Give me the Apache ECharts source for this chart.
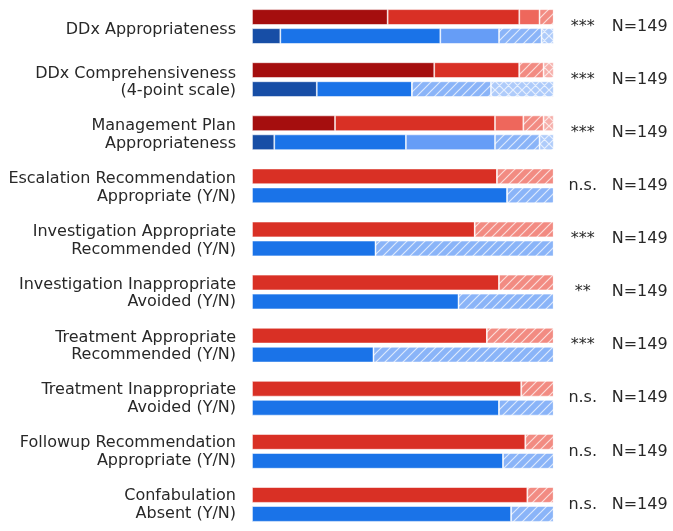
<!DOCTYPE html>
<html>
<head>
<meta charset="utf-8">
<script src="https://cdn.jsdelivr.net/npm/echarts@6/dist/echarts.min.js"></script>
<style>
  html, body { margin: 0; padding: 0; background: #fff; }
  #chart { width: 673px; height: 531px; }
</style>
</head>
<body>
<div id="chart"></div>
<script>
// Rated outcomes, each row compares two groups (red = group A, blue = group B)
const categories = [
  'DDx Appropriateness',
  'DDx Comprehensiveness\n(4-point scale)',
  'Management Plan\nAppropriateness',
  'Escalation Recommendation\nAppropriate (Y/N)',
  'Investigation Appropriate\nRecommended (Y/N)',
  'Investigation Inappropriate\nAvoided (Y/N)',
  'Treatment Appropriate\nRecommended (Y/N)',
  'Treatment Inappropriate\nAvoided (Y/N)',
  'Followup Recommendation\nAppropriate (Y/N)',
  'Confabulation\nAbsent (Y/N)'
];

// Counts per rating level (level 1 = best, level 5 = worst)
const groupA1 = [67, 90, 41, 0, 0, 0, 0, 0, 0, 0];
const groupA2 = [65, 42, 79, 121, 110, 122, 116, 133, 135, 136];
const groupA3 = [10, 0, 14, 0, 0, 0, 0, 0, 0, 0];
const groupA4 = [7, 12, 10, 28, 39, 27, 33, 16, 14, 13];
const groupA5 = [0, 5, 5, 0, 0, 0, 0, 0, 0, 0];

const groupB1 = [14, 32, 11, 0, 0, 0, 0, 0, 0, 0];
const groupB2 = [79, 47, 65, 126, 61, 102, 60, 122, 124, 128];
const groupB3 = [29, 0, 44, 0, 0, 0, 0, 0, 0, 0];
const groupB4 = [21, 39, 22, 23, 88, 47, 89, 27, 25, 21];
const groupB5 = [6, 31, 7, 0, 0, 0, 0, 0, 0, 0];

const significance = ['***', '***', '***', 'n.s.', '***', '**', '***', 'n.s.', 'n.s.', 'n.s.'];
const sampleSizes = [149, 149, 149, 149, 149, 149, 149, 149, 149, 149];

const TOTAL = 149;

// Hatched fill: diagonal white lines, optionally crossed
function hatch(bg, cross) {
  const s = 9;
  const c = document.createElement('canvas');
  c.width = s; c.height = s;
  const g = c.getContext('2d');
  g.fillStyle = bg;
  g.fillRect(0, 0, s, s);
  g.strokeStyle = 'rgba(255,255,255,0.7)';
  g.lineWidth = 1.2;
  g.beginPath();
  g.moveTo(-1, s + 1); g.lineTo(s + 1, -1);
  g.moveTo(-2, 2); g.lineTo(2, -2);
  g.moveTo(s - 2, s + 2); g.lineTo(s + 2, s - 2);
  if (cross) {
    g.moveTo(-1, -1); g.lineTo(s + 1, s + 1);
    g.moveTo(-2, s - 2); g.lineTo(2, s + 2);
    g.moveTo(s - 2, -2); g.lineTo(s + 2, 2);
  }
  g.stroke();
  return { image: c, repeat: 'repeat' };
}

const redFills = ['#a50e0e', '#d93025', '#ee675c', hatch('#f28b82', false), hatch('#f6aea9', true)];
const blueFills = ['#174ea6', '#1a73e8', '#669df6', hatch('#8ab4f8', false), hatch('#aecbfa', true)];

function makeSeries(stack, levels, fills) {
  return levels.map((vals, i) => ({
    type: 'bar',
    name: stack + '-' + (i + 1),
    stack: stack,
    data: vals,
    barWidth: 15.7,
    barGap: '21%',
    itemStyle: {
      color: fills[i],
      borderColor: 'rgba(255,255,255,0.7)',
      borderWidth: 0.8
    },
    silent: true
  }));
}

const series = [
  ...makeSeries('A', [groupA1, groupA2, groupA3, groupA4, groupA5], redFills),
  ...makeSeries('B', [groupB1, groupB2, groupB3, groupB4, groupB5], blueFills)
];

const textColor = '#282828';
const hiddenLines = {
  axisLine: { show: false },
  axisTick: { show: false },
  splitLine: { show: false }
};

const chart = echarts.init(document.getElementById('chart'), null, { renderer: 'canvas' });
chart.setOption({
  animation: false,
  grid: [
    // bars and right-hand annotations
    { left: 252, width: 301.7, top: 0, height: 534 },
    // row titles, sitting a touch lower than the bar rows
    { left: 252, width: 301.7, top: 3, height: 534 }
  ],
  xAxis: [
    { type: 'value', gridIndex: 0, min: 0, max: TOTAL, show: false },
    { type: 'value', gridIndex: 1, min: 0, max: TOTAL, show: false }
  ],
  yAxis: [
    {
      type: 'category',
      gridIndex: 0,
      data: categories,
      inverse: true,
      position: 'right',
      ...hiddenLines,
      axisLabel: {
        margin: 0,
        formatter: (v, idx) => '{s|' + significance[idx] + '}{n|N=' + sampleSizes[idx] + '}',
        rich: {
          s: { width: 58, align: 'center', fontFamily: 'DejaVu Sans', fontSize: 16, color: textColor },
          n: { align: 'left', fontFamily: 'DejaVu Sans', fontSize: 16, color: textColor }
        }
      }
    },
    {
      type: 'category',
      gridIndex: 1,
      data: categories,
      inverse: true,
      position: 'left',
      ...hiddenLines,
      axisLabel: {
        margin: 16,
        fontFamily: 'DejaVu Sans',
        fontSize: 16,
        lineHeight: 17.5,
        color: textColor,
        align: 'right'
      }
    }
  ],
  series: series
});
</script>
</body>
</html>
